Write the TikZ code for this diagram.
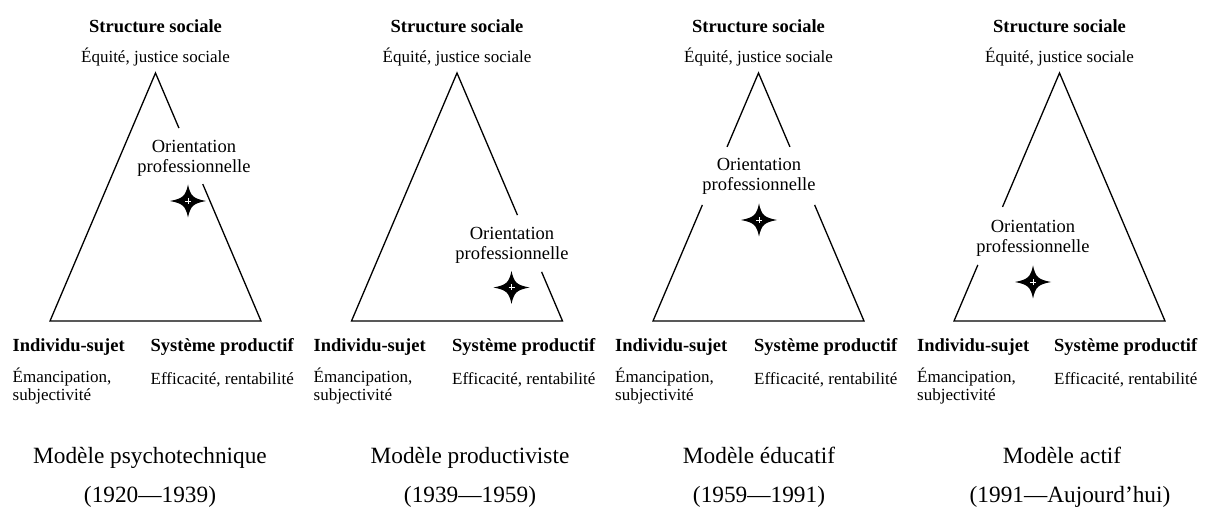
\documentclass[tikz,border=0pt]{standalone}
\usepackage{fontspec}
\setmainfont{Liberation Serif}
\usetikzlibrary{positioning, calc}

\begin{document}
\begin{tikzpicture}[
    x=1pt, y=-1pt,
    cote/.style={line width=1.3pt, line join=miter},
    pole/.style={font=\bfseries\fontsize{18.5}{20}\selectfont, inner sep=0pt, anchor=base},
    valeur/.style={font=\fontsize{17}{19}\selectfont, inner sep=0pt, anchor=base},
    orient/.style={font=\fontsize{18.5}{20}\selectfont, inner sep=0pt, anchor=base},
    modele/.style={font=\fontsize{23.3}{26}\selectfont, inner sep=0pt, anchor=base},
    etoile/.pic={
        \fill (18,0) .. controls (5,2.5) and (2.5,5) .. (0,16.5)
            .. controls (-2.5,5) and (-5,2.5) .. (-18,0)
            .. controls (-5,-2.5) and (-2.5,-5) .. (0,-16.5)
            .. controls (2.5,-5) and (5,-2.5) .. cycle;
        \draw[white, line width=0.6pt] (-3,0) -- (3,0) (0,-3) -- (0,3);
    }
]
\useasboundingbox (0,0) rectangle (1208,510);

% Modele psychotechnique
\coordinate (sommet1) at (155.5,73);
\coordinate (gauche1) at (50,321);
\coordinate (droite1) at (261,321);
\coordinate (coupe1a) at ($(sommet1)!0.222!(droite1)$);
\coordinate (coupe1b) at ($(sommet1)!0.448!(droite1)$);
\draw[cote] (coupe1a) -- (sommet1) -- (gauche1) -- (droite1) -- (coupe1b);

\node[pole] (structure1) at (155.5,32.7) {Structure sociale};
\node[valeur] (equite1) at (155.5,63) {Équité, justice sociale};
\node[orient] (orient1) at (194,152.5) {Orientation};
\node[orient] (prof1) at ($(orient1.base)+(0,20)$) {professionnelle};
\pic at (188,201) {etoile};
\node[pole, anchor=base west] (individu1) at (12.5,352) {Individu-sujet};
\node[valeur, anchor=base west] (emancip1) at (12.5,383) {Émancipation,};
\node[valeur, anchor=base west] (subj1) at (12.5,401) {subjectivité};
\node[pole, anchor=base west] (systeme1) at (150.5,352) {Système productif};
\node[valeur, anchor=base west] (efficacite1) at (150.5,385) {Efficacité, rentabilité};
\node[modele] (modele1) at (150,464) {Modèle psychotechnique};
\node[modele] (periode1) at (150,503) {(1920—1939)};

% Modele productiviste
\coordinate (sommet2) at (457,73);
\coordinate (gauche2) at (351.5,321);
\coordinate (droite2) at (562.5,321);
\coordinate (coupe2a) at ($(sommet2)!0.573!(droite2)$);
\coordinate (coupe2b) at ($(sommet2)!0.802!(droite2)$);
\draw[cote] (coupe2a) -- (sommet2) -- (gauche2) -- (droite2) -- (coupe2b);

\node[pole] (structure2) at (457,32.7) {Structure sociale};
\node[valeur] (equite2) at (457,63) {Équité, justice sociale};
\node[orient] (orient2) at (512,240) {Orientation};
\node[orient] (prof2) at ($(orient2.base)+(0,20)$) {professionnelle};
\pic at (511.5,287.5) {etoile};
\node[pole, anchor=base west] (individu2) at (313.5,352) {Individu-sujet};
\node[valeur, anchor=base west] (emancip2) at (313.5,383) {Émancipation,};
\node[valeur, anchor=base west] (subj2) at (313.5,401) {subjectivité};
\node[pole, anchor=base west] (systeme2) at (452,352) {Système productif};
\node[valeur, anchor=base west] (efficacite2) at (452,385) {Efficacité, rentabilité};
\node[modele] (modele2) at (470,464) {Modèle productiviste};
\node[modele] (periode2) at (470,503) {(1939—1959)};

% Modele educatif
\coordinate (sommet3) at (758.5,73);
\coordinate (gauche3) at (653,321);
\coordinate (droite3) at (864,321);
\coordinate (coupe3a) at ($(sommet3)!0.298!(gauche3)$);
\coordinate (coupe3b) at ($(sommet3)!0.298!(droite3)$);
\coordinate (coupe3c) at ($(sommet3)!0.532!(gauche3)$);
\coordinate (coupe3d) at ($(sommet3)!0.532!(droite3)$);
\draw[cote] (coupe3a) -- (sommet3) -- (coupe3b);
\draw[cote] (coupe3c) -- (gauche3) -- (droite3) -- (coupe3d);

\node[pole] (structure3) at (758.5,32.7) {Structure sociale};
\node[valeur] (equite3) at (758.5,63) {Équité, justice sociale};
\node[orient] (orient3) at (759,171) {Orientation};
\node[orient] (prof3) at ($(orient3.base)+(0,20)$) {professionnelle};
\pic at (759,220) {etoile};
\node[pole, anchor=base west] (individu3) at (615,352) {Individu-sujet};
\node[valeur, anchor=base west] (emancip3) at (615,383) {Émancipation,};
\node[valeur, anchor=base west] (subj3) at (615,401) {subjectivité};
\node[pole, anchor=base west] (systeme3) at (754,352) {Système productif};
\node[valeur, anchor=base west] (efficacite3) at (754,385) {Efficacité, rentabilité};
\node[modele] (modele3) at (759,464) {Modèle éducatif};
\node[modele] (periode3) at (759,503) {(1959—1991)};

% Modele actif
\coordinate (sommet4) at (1059.5,73);
\coordinate (gauche4) at (954,321);
\coordinate (droite4) at (1165,321);
\coordinate (coupe4a) at ($(sommet4)!0.540!(gauche4)$);
\coordinate (coupe4b) at ($(sommet4)!0.774!(gauche4)$);
\draw[cote] (coupe4b) -- (gauche4) -- (droite4) -- (sommet4) -- (coupe4a);

\node[pole] (structure4) at (1059.5,32.7) {Structure sociale};
\node[valeur] (equite4) at (1059.5,63) {Équité, justice sociale};
\node[orient] (orient4) at (1033,233) {Orientation};
\node[orient] (prof4) at ($(orient4.base)+(0,20)$) {professionnelle};
\pic at (1033,282) {etoile};
\node[pole, anchor=base west] (individu4) at (917,352) {Individu-sujet};
\node[valeur, anchor=base west] (emancip4) at (917,383) {Émancipation,};
\node[valeur, anchor=base west] (subj4) at (917,401) {subjectivité};
\node[pole, anchor=base west] (systeme4) at (1054,352) {Système productif};
\node[valeur, anchor=base west] (efficacite4) at (1054,385) {Efficacité, rentabilité};
\node[modele] (modele4) at (1062,464) {Modèle actif};
\node[modele] (periode4) at (1070,503) {(1991—Aujourd’hui)};

\end{tikzpicture}
\end{document}
